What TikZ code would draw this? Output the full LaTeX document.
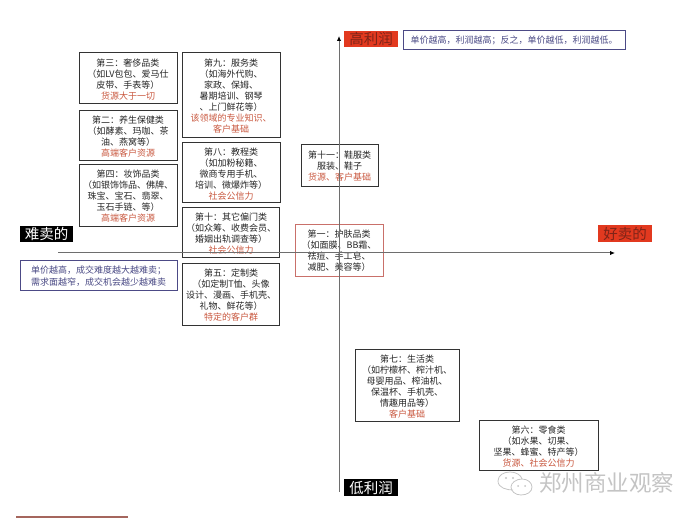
\documentclass[tikz,border=0pt]{standalone}
\usepackage{fontspec}
\setmainfont{Noto Sans CJK SC}
\usetikzlibrary{arrows.meta}
\definecolor{redtxt}{HTML}{C9583F}
\definecolor{bluetxt}{HTML}{4A4A85}
\definecolor{blueedge}{HTML}{4C4A86}
\definecolor{axisgray}{HTML}{6E6E6E}
\definecolor{pinkedge}{HTML}{C9706A}
\definecolor{redfill}{HTML}{E2391F}
\definecolor{redink}{HTML}{7E2418}
\definecolor{boxedge}{HTML}{333333}
\definecolor{wmgray}{HTML}{C4C4C4}
\newcommand{\rt}[1]{\textcolor{redtxt}{#1}}
\newcommand{\tp}{\rule{0pt}{10pt}}
\tikzset{
  catbox/.style={draw=boxedge,line width=0.9pt,fill=white,inner sep=0pt,align=center,text=black!85,
    font=\fontsize{9}{11}\selectfont},
  notebox/.style={draw=blueedge,line width=1pt,fill=white,inner sep=0pt,align=center,text=bluetxt,
    font=\fontsize{9}{12}\selectfont},
  tagdark/.style={fill=black,text=white,inner sep=0pt,minimum width=54pt,minimum height=16.5pt,
    font=\fontsize{14.5}{16}\selectfont},
  tagred/.style={fill=redfill,text=redink,inner sep=0pt,minimum width=54pt,minimum height=16.5pt,
    font=\fontsize{14.5}{16}\selectfont},
  axisline/.style={draw=axisgray,line width=1pt,-{Latex[length=5pt,width=4.5pt,black]}},
}
\begin{document}
\begin{tikzpicture}[x=1pt,y=-1pt]
\useasboundingbox (0,0) rectangle (697,518);
\node[catbox,minimum width=98pt,minimum height=50.6pt] (c3) at (128,78) {\tp 第三：奢侈品类\\（如LV包包、爱马仕\\皮带、手表等）\\\rt{货源大于一切}};
\node[catbox,minimum width=98pt,minimum height=50pt] (c2) at (128,135) {\tp 第二：养生保健类\\（如酵素、玛咖、茶\\油、燕窝等）\\\rt{高端客户资源}};
\node[catbox,minimum width=98pt,minimum height=62pt] (c4) at (128,195) {\tp 第四：妆饰品类\\（如银饰饰品、佛牌、\\珠宝、宝石、翡翠、\\玉石手链、等）\\\rt{高端客户资源}};
\node[catbox,minimum width=98pt,minimum height=84.6pt] (c9) at (231,95) {\tp 第九：服务类\\（如海外代购、\\家政、保姆、\\暑期培训、钢琴\\、上门鲜花等）\\\rt{该领域的专业知识、}\\\rt{客户基础}};
\node[catbox,minimum width=98pt,minimum height=60.4pt] (c8) at (231,172.5) {\tp 第八：教程类\\（如加粉秘籍、\\微商专用手机、\\培训、微爆炸等）\\\rt{社会公信力}};
\node[catbox,minimum width=97pt,minimum height=50pt] (c10) at (231,232) {\tp 第十：其它偏门类\\（如众筹、收费会员、\\婚姻出轨调查等）\\\rt{社会公信力}};
\node[catbox,minimum width=97pt,minimum height=62pt] (c5) at (231,294) {\tp 第五：定制类\\（如定制T恤、头像\\设计、漫画、手机壳、\\礼物、鲜花等）\\\rt{特定的客户群}};
\node[notebox,minimum width=157pt,minimum height=30pt] (noteL) at (98.5,276) {单价越高，成交难度越大越难卖；\\需求面越窄，成交机会越少越难卖};
\node[tagdark,minimum width=53pt] (hard) at (46.5,234) {难卖的};
\node[catbox,minimum width=77pt,minimum height=42pt] (c11) at (339.5,165) {\tp 第十一：鞋服类\\服装、鞋子\\\rt{货源、客户基础}};
\node[catbox,draw=pinkedge,line width=1pt,minimum width=88pt,minimum height=52pt] (c1) at (339,251) {第一：护肤品类\\（如面膜、BB霜、\\祛痘、手工皂、\\减肥、美容等）};
\node[tagred] (high) at (371,39) {高利润};
\node[notebox,minimum width=222pt,minimum height=19pt] (noteT) at (514,40.5) {单价越高，利润越高；反之，单价越低，利润越低。};
\node[tagred] (good) at (625,233.5) {好卖的};
\node[catbox,minimum width=104pt,minimum height=72pt] (c7) at (407,385) {\tp 第七：生活类\\（如柠檬杯、榨汁机、\\母婴用品、榨油机、\\保温杯、手机壳、\\情趣用品等）\\\rt{客户基础}};
\node[catbox,minimum width=119pt,minimum height=50pt] (c6) at (538.5,445) {\tp 第六：零食类\\（如水果、切果、\\坚果、蜂蜜、特产等）\\\rt{货源、社会公信力}};
\node[tagdark] (low) at (371,487.5) {低利润};
\coordinate (xs) at (58,253);
\coordinate (xe) at (615,253);
\coordinate (ys) at (339,492);
\coordinate (ye) at (339,36);
\draw[axisline] (xs) -- (xe);
\draw[axisline] (ys) -- (ye);
\node[text=wmgray,inner sep=0pt,font=\fontsize{22.5}{24}\selectfont] (wm) at (606.5,483) {郑州商业观察};
\draw[wmgray,line width=0.8pt] (513,490) .. controls (507,490) and (498,488) .. (498,481) .. controls (498,475) and (504,472) .. (510,472) .. controls (516,472) and (521,475) .. (522,479);
\draw[wmgray,line width=0.8pt] (522,479) .. controls (528,479) and (532,483) .. (532,487) .. controls (532,492) and (527,495) .. (521,495) .. controls (515,495) and (511,491) .. (511,487) .. controls (511,483) and (516,479) .. (522,479);
\fill[wmgray] (506,478) circle (1.1pt) (513,478) circle (1.1pt) (518,486) circle (1pt) (525,486) circle (1pt);
\coordinate (bs) at (16,517);
\coordinate (be) at (128,517);
\draw[draw=redink!70,line width=1.2pt] (bs) -- (be);
\end{tikzpicture}
\end{document}
